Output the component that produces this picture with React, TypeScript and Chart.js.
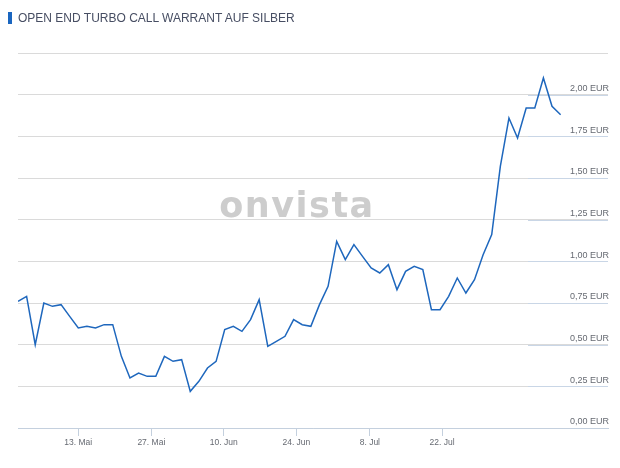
import React, { useEffect, useRef } from "react";
import { Chart, registerables } from "chart.js";

Chart.register(...registerables);

const TITLE = "OPEN END TURBO CALL WARRANT AUF SILBER";

// Daily closing prices (EUR), one per trading day
const PRICES: number[] = [
  0.76, 0.79, 0.5, 0.75, 0.73, 0.74, 0.67, 0.6, 0.61, 0.6,
  0.62, 0.62, 0.43, 0.3, 0.33, 0.31, 0.31, 0.43, 0.4, 0.41,
  0.22, 0.28, 0.36, 0.4, 0.59, 0.61, 0.58, 0.65, 0.77, 0.49,
  0.52, 0.55, 0.65, 0.62, 0.61, 0.74, 0.85, 1.12, 1.01, 1.1,
  1.03, 0.96, 0.93, 0.98, 0.83, 0.94, 0.97, 0.95, 0.71, 0.71,
  0.79, 0.9, 0.81, 0.89, 1.04, 1.16, 1.57, 1.86, 1.74, 1.92,
  1.92, 2.1, 1.93, 1.88,
];

// X-axis date ticks, positioned on the trading-day index scale
const X_TICK_LABELS: string[] = ["13. Mai", "27. Mai", "10. Jun", "24. Jun", "8. Jul", "22. Jul"];
const X_TICK_POS: number[] = [7.0, 15.48, 23.89, 32.32, 40.85, 49.24];
const X_MAX = 68.5;

const Y_MIN = 0;
const Y_MAX = 2.25;
const Y_STEP = 0.25;

const fmtEur = (v: number) => v.toFixed(2).replace(".", ",") + " EUR";

export default function App() {
  const ref = useRef<HTMLCanvasElement | null>(null);

  useEffect(() => {
    if (!ref.current) return;

    const watermark = {
      id: "watermark",
      beforeDatasetsDraw(chart: any) {
        const ctx = chart.ctx;
        ctx.save();
        ctx.font = "bold 35px 'DejaVu Sans'";
        (ctx as any).letterSpacing = "1.5px";
        ctx.fillStyle = "#cdcdcd";
        ctx.textAlign = "center";
        ctx.textBaseline = "alphabetic";
        ctx.fillText("onvista", 297, 217);
        ctx.restore();
      },
    };

    const labelUnderline = {
      id: "labelUnderline",
      beforeDatasetsDraw(chart: any) {
        const ctx = chart.ctx;
        const y = chart.scales.y;
        const area = chart.chartArea;
        ctx.save();
        ctx.strokeStyle = "#c9d6e6";
        ctx.lineWidth = 1;
        for (let v = Y_MIN + Y_STEP; v < Y_MAX - 1e-9; v += Y_STEP) {
          const py = Math.round(y.getPixelForValue(v)) + 0.5;
          ctx.beginPath();
          ctx.moveTo(area.right - 80, py);
          ctx.lineTo(area.right, py);
          ctx.stroke();
        }
        ctx.restore();
      },
    };

    const chart = new Chart(ref.current, {
      type: "line",
      data: {
        datasets: [
          {
            data: PRICES.map((v, i) => ({ x: i, y: v })),
            borderColor: "#1e67bd",
            borderWidth: 1.5,
            pointRadius: 0,
            tension: 0,
            fill: false,
          },
        ],
      },
      options: {
        responsive: false,
        animation: false,
        layout: { padding: { left: 18, right: 12, top: 53, bottom: 0 } },
        plugins: {
          legend: { display: false },
          tooltip: { enabled: false },
          title: { display: false },
        },
        scales: {
          x: {
            type: "linear",
            min: 0,
            max: X_MAX,
            afterBuildTicks: (scale: any) => {
              scale.ticks = X_TICK_POS.map((v) => ({ value: v }));
            },
            afterFit: (scale: any) => {
              scale.height = 40;
            },
            grid: {
              drawOnChartArea: false,
              drawTicks: true,
              tickLength: 8,
              color: "#c4d0de",
            },
            border: { display: true, color: "#c4d0de", width: 1 },
            ticks: {
              autoSkip: false,
              maxRotation: 0,
              padding: 2,
              color: "#666a72",
              font: { family: "'Liberation Sans', Arial, sans-serif", size: 8.5 },
              callback: (v: any) => {
                const idx = X_TICK_POS.indexOf(Number(v));
                return idx >= 0 ? X_TICK_LABELS[idx] : "";
              },
            },
          },
          y: {
            position: "right",
            min: Y_MIN,
            max: Y_MAX,
            afterFit: (scale: any) => {
              scale.width = 0;
            },
            grid: {
              drawTicks: false,
              color: "#dadada",
              lineWidth: 1,
            },
            border: { display: false },
            ticks: {
              stepSize: Y_STEP,
              mirror: true,
              padding: 1,
              labelOffset: -6,
              color: "#666a72",
              font: { family: "'Liberation Sans', Arial, sans-serif", size: 9 },
              callback: (v: any) => (Number(v) >= Y_MAX - 1e-9 ? "" : fmtEur(Number(v))),
            },
          },
        },
      },
      plugins: [watermark, labelUnderline],
    });

    return () => chart.destroy();
  }, []);

  return (
    <div style={{ position: "absolute", left: 0, top: 0, width: 620, height: 468, background: "#fff" }}>
      <canvas ref={ref} width={620} height={468} style={{ position: "absolute", left: 0, top: 0 }} />
      <div
        style={{
          position: "absolute",
          left: 8,
          top: 12,
          height: 12,
          borderLeft: "4px solid #1a66c0",
          paddingLeft: 6,
          font: "12px 'Liberation Sans', Arial, sans-serif",
          lineHeight: "12px",
          color: "#474e63",
          whiteSpace: "nowrap",
        }}
      >
        {TITLE}
      </div>
    </div>
  );
}
